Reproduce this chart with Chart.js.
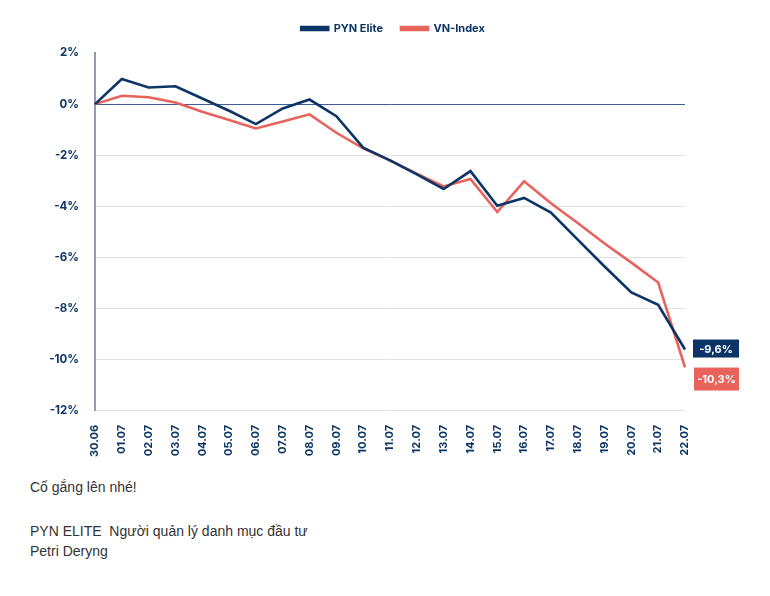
<!DOCTYPE html>
<html>
<head>
<meta charset="utf-8">
<script src="https://cdn.jsdelivr.net/npm/chart.js@4.4.1/dist/chart.umd.min.js"></script>
<style>
  body { margin: 0; background: #fff; font-family: "Liberation Sans", Arial, sans-serif; }
  #wrap { position: relative; width: 770px; height: 467px; }
  .note { margin: 0 0 0 30px; color: #333; font-size: 14px; line-height: 20px; }
</style>
</head>
<body>
<div id="wrap"><canvas id="perfChart"></canvas></div>
<p class="note" style="margin-top:10px">Cố gắng lên nhé!</p>
<p class="note" style="margin-top:24px">PYN ELITE&nbsp; Người quản lý danh mục đầu tư<br>Petri Deryng</p>
<script>
// Dates (tick labels)
const dates = ["30.06", "01.07", "02.07", "03.07", "04.07", "05.07", "06.07", "07.07",
  "08.07", "09.07", "10.07", "11.07", "12.07", "13.07", "14.07", "15.07", "16.07",
  "17.07", "18.07", "19.07", "20.07", "21.07", "22.07"];

// Cumulative performance in %
const pynElite = [0, 0.98, 0.65, 0.7, 0.22, -0.26, -0.78, -0.17, 0.18, -0.47, -1.7,
  -2.2, -2.75, -3.32, -2.62, -3.98, -3.67, -4.24, -5.3, -6.35, -7.37, -7.85, -9.6];
const vnIndex = [0, 0.33, 0.27, 0.06, -0.3, -0.62, -0.95, -0.68, -0.4, -1.12, -1.73,
  -2.2, -2.72, -3.22, -2.93, -4.22, -3.02, -3.88, -4.65, -5.45, -6.2, -6.98, -10.3];

const endLabels = ["-9,6%", "-10,3%"];
const navy = "#0c3466";
const coral = "#e8635b";

// Extra room under the legend
const legendGap = {
  id: "legendGap",
  beforeInit(chart) {
    const fit = chart.legend.fit;
    chart.legend.fit = function () {
      fit.bind(chart.legend)();
      this.height += 9;
    };
  }
};

// Draw value boxes next to the last points
const endLabelPlugin = {
  id: "endLabels",
  afterDatasetsDraw(chart) {
    const ctx = chart.ctx;
    ctx.save();
    ctx.font = "bold 11px Inter, 'DejaVu Sans', sans-serif";
    ctx.textAlign = "center";
    ctx.textBaseline = "middle";
    const p0 = chart.getDatasetMeta(0).data[dates.length - 1];
    const boxes = [
      { x: p0.x + 8, y: p0.y - 10, w: 46, h: 18, color: navy, text: endLabels[0] },
      { x: p0.x + 9, y: p0.y + 18, w: 45, h: 23, color: coral, text: endLabels[1] }
    ];
    boxes.forEach(b => {
      ctx.fillStyle = b.color;
      ctx.fillRect(b.x, b.y, b.w, b.h);
      ctx.fillStyle = "#fff";
      ctx.fillText(b.text, b.x + b.w / 2, b.y + b.h / 2 + 1);
    });
    ctx.restore();
  }
};

const ctx = document.getElementById("perfChart").getContext("2d");
new Chart(ctx, {
  type: "line",
  data: {
    labels: dates,
    datasets: [
      { label: "PYN Elite", data: pynElite, borderColor: navy, backgroundColor: navy,
        borderWidth: 2.6, pointRadius: 0, tension: 0 },
      { label: "VN-Index", data: vnIndex, borderColor: coral, backgroundColor: coral,
        borderWidth: 2.6, pointRadius: 0, tension: 0 }
    ]
  },
  options: {
    responsive: true,
    maintainAspectRatio: false,
    animation: false,
    layout: { padding: { left: 16, right: 0, top: 5, bottom: 4 } },
    plugins: {
      legend: {
        labels: {
          color: navy,
          boxWidth: 27,
          boxHeight: 3,
          padding: 18,
          font: { family: "Inter", size: 11, weight: "bold" }
        }
      },
      tooltip: { enabled: false }
    },
    scales: {
      x: {
        grid: { display: false },
        border: { display: false },
        ticks: {
          color: navy,
          minRotation: 90,
          maxRotation: 90,
          autoSkip: false,
          padding: 6,
          font: { family: "Inter", size: 11, weight: "bold" }
        }
      },
      y: {
        min: -12,
        max: 2,
        afterFit: s => { s.width = 79; },
        border: { color: "#8d9cb0", width: 2 },
        grid: {
          drawTicks: false,
          color: c => c.tick.value === 0 ? "#3d5f95" : (c.tick.value === 2 ? "rgba(0,0,0,0)" : "#e2e2e2")
        },
        ticks: {
          stepSize: 2,
          color: navy,
          padding: 16,
          callback: v => v + "%",
          font: { family: "Inter", size: 11.5, weight: "bold" }
        }
      },
      // empty axis that keeps space for the value boxes
      yRight: {
        position: "right",
        min: -12,
        max: 2,
        afterFit: s => { s.width = 85; },
        grid: { display: false },
        border: { display: false },
        ticks: { display: false }
      }
    }
  },
  plugins: [legendGap, endLabelPlugin]
});
</script>
</body>
</html>
